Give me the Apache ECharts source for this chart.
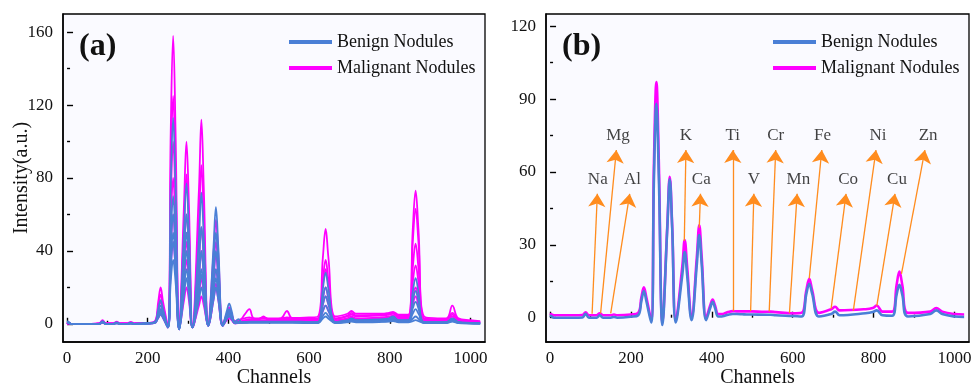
<!DOCTYPE html>
<html>
<head>
<meta charset="utf-8">
<script src="https://cdn.jsdelivr.net/npm/echarts@6/dist/echarts.min.js"></script>
<style>html,body{margin:0;padding:0;background:#fff}#item{width:974px;height:389px}</style>
</head>
<body>
<div id="item"></div>
<script>
var item = echarts.init(document.getElementById('item'));
var FONT = "'Liberation Serif','Times New Roman',serif";

/*-- channels (shared sample points) --*/
let CH = [0,4,10,60,80,88,96,115,123,131,150,158,166,
  200,218,226,232,238, 250,257,263,269,278, 290,296,302,311, 327,333,339,350,
  363,369,375,386, 396,402,408,416,
  425,432,440,452,462,475,487,498,530,545,558,600,622,
  634,641,648,665, 695,705,716, 780,798,808,822,846, 857,864,871,885, 940,955,970,1000,1024];

/*-- (a) malignant spectra --*/
let mal1 = [0,0.8,0,0,0.3,2,0.3,0.3,1.2,0.3,0.3,1,0.3, 0.5,1.5,12,20,12, -1,105,158,105,-2, 66,100,66,-1, 74,112,74,0, 38,57,38,0, 5.5,9,5.5,1.5,
  2,2.5,3,3.5,3,3,3.5,3,3,3.5,3.2,3.5,4, 36,52,36,4, 5.5,7,5.5, 5.5,6,6.5,5,5, 52,73,52,4, 3,10,3,2,1.5];
let mal2 = [0,0.5,0,0,0.2,1.5,0.2,0.2,1,0.2,0.2,0.8,0.2, 0.4,1.2,9.5,16,9.5, -1.5,82,125,82,-2.5, 54,82,54,-1.5, 57,87,57,-0.5, 30,45,30,-0.5, 4.5,7,4.5,1,
  1.5,2.5,5,8,3,2.5,4,2.5,2.5,2.8,2.5,2.8,3, 24,35,24,3, 4.5,6,4.5, 5,5.5,6,4.5,4.5, 45,63,45,3, 2.5,6,2.5,1.5,1];
let mal3 = [0,0.3,0,0,0.1,1,0.1,0.1,0.7,0.1,0.1,0.5,0.1, 0.3,1,7.5,12,7.5, -2,66,100,66,-2.5, 40,60,40,-2, 35,53,35,-1, 25,38,25,-1, 4,6,4,0.8,
  1,1.5,2,2.5,2.5,2.5,3,2.5,3,7,3,2.5,2.5, 21,30,21,2.5, 4,5,4, 4.5,5,5.5,4,4, 31,44,31,2.5, 2,5,2,1.2,1];
let mal4 = [0,0.2,0,0,0.1,0.8,0.1,0.1,0.5,0.1,0.1,0.4,0.1, 0.2,0.8,5,8,5, -2,53,80,53,-3, 30,45,30,-2, 26,40,26,-1, 20,30,20,-1, 3.3,5,3.3,0.5,
  0.8,1.2,1.5,2,2,2,2,2,2,2.2,2,2,2, 14,20,14,2, 3,4,3, 3.5,4,4.5,3.5,3.5, 23,32,23,2, 1.8,4,1.8,1,0.8];
let mal5 = [0,0.2,0,0,0.1,0.6,0.1,0.1,0.4,0.1,0.1,0.3,0.1, 0.2,0.6,4,6,4, -2,40,60,40,-3, 13,20,13,-2, 16,25,16,-1, 15,22,15,-1, 2.6,4,2.6,0.3,
  0.6,1,1.2,1.5,1.5,1.5,1.5,1.5,1.6,1.6,1.6,1.6,1.6, 10.5,15,10.5,1.6, 2.5,3.5,2.5, 3,3.5,4,3,3, 14,20,14,1.5, 1.5,3,1.5,0.8,0.6];
let mal6 = [0,0.2,0,0,0,0.5,0,0,0.3,0,0,0.2,0, 0.1,0.5,3.2,5,3.2, -2,30,45,30,-3, 23,35,23,-2, 10,15,10,-1, 13,20,13,-1, 2,3,2,0.2,
  0.4,0.7,0.9,1,1,1,1,1,1.1,1.1,1.1,1.1,1.1, 7,10,7,1.1, 2,3,2, 2.5,3,3.5,2.5,2.5, 10.5,15,10.5,1.2, 1.2,2.5,1.2,0.6,0.5];

/*-- (a) benign spectra --*/
let ben1 = [1.5,1,0,0,0,1.5,0,0,0.8,0,0,0.5,0, 0.3,1,8,13,8, -2,75,113,75,-3, 51,77,51,-2, 47,72,47,-1, 42,64,42,-1, 7,11,7,1,
  2.5,1,1,1.2,1.2,1.2,1.2,1.2,1.2,1.2,1.2,1,1, 19,28,19,1, 2,3,2, 2.5,3,4,2,2, 17.5,25,17.5,1, 1,3,1,0.5,0.3];
let ben2 = [1,0.8,0,0,0,1.2,0,0,0.6,0,0,0.4,0, 0.3,0.9,6.3,10,6.3, -2,46,70,46,-3, 40,60,40,-2, 35,53,35,-1, 33,50,33,-1, 5,8,5,0.8,
  1,0.9,0.9,1,1,1,1,1,1,1,1,0.8,0.8, 14,20,14,0.8, 1.8,2.5,1.8, 2,2.5,3.5,1.8,1.8, 12.5,18,12.5,0.8, 0.8,2.5,0.8,0.4,0.3];
let ben3 = [0.8,0.6,0,0,0,1,0,0,0.5,0,0,0.3,0, 0.2,0.8,5,8,5, -2,40,60,40,-3, 33,50,33,-2, 26,40,26,-1, 26,40,26,-1, 4.4,7,4.4,0.6,
  0.8,0.8,0.8,0.9,0.9,0.9,0.9,0.9,0.9,0.9,0.9,0.7,0.7, 10.5,15,10.5,0.7, 1.5,2.2,1.5, 1.8,2.2,3,1.5,1.5, 8.5,12,8.5,0.7, 0.7,2,0.7,0.3,0.2];
let ben4 = [0.6,0.5,0,0,0,0.8,0,0,0.4,0,0,0.2,0, 0.2,0.7,4.4,7,4.4, -2,33,50,33,-3, 26,40,26,-2, 20,30,20,-1, 20,30,20,-1, 3.8,6,3.8,0.5,
  0.7,0.7,0.7,0.8,0.8,0.8,0.8,0.8,0.8,0.8,0.8,0.6,0.6, 7,10,7,0.6, 1.2,1.8,1.2, 1.5,1.8,2.5,1.2,1.2, 5.6,8,5.6,0.6, 0.6,1.8,0.6,0.3,0.2];
let ben5 = [0.5,0.4,0,0,0,0.7,0,0,0.3,0,0,0.2,0, 0.1,0.6,3.8,6,3.8, -2,30,45,30,-3, 20,30,20,-2, 18,27,18,-1, 16,25,16,-1, 3.2,5,3.2,0.4,
  0.6,0.6,0.6,0.7,0.7,0.7,0.7,0.7,0.7,0.7,0.7,0.5,0.5, 4.2,6,4.2,0.5, 1,1.5,1, 1.2,1.5,2,1,1, 2.8,4,2.8,0.5, 0.5,1.5,0.5,0.2,0.1];
let ben6 = [0.4,0.3,0,0,0,0.6,0,0,0.3,0,0,0.1,0, 0.1,0.5,3.2,5,3.2, -2,23,35,23,-3, 16,25,16,-2, 13,20,13,-1, 13,20,13,-1, 2.6,4,2.6,0.3,
  0.5,0.5,0.5,0.6,0.6,0.6,0.6,0.6,0.6,0.6,0.6,0.4,0.4, 2.8,4,2.8,0.4, 0.8,1.2,0.8, 1,1.2,1.5,0.8,0.8, 1.5,2,1.5,0.4, 0.4,1.2,0.4,0.2,0.1];

/*-- (b) mean spectra --*/
let malMean = [1.8,1.3,1,1,1.1,2.2,1,1,1.8,1,1,1.3,1, 1.3,2,8.5,12.5,8.5, -1,64,97,64,-2, 38,58,38,-1, 21,32,21,0, 25,38,25,0, 5,7.5,5,1.5,
  1.5,1.8,2.3,2.7,2.6,2.6,2.6,2.6,2.4,2.5,2.3,1.8,2, 11.5,16,11.5,2, 3.5,4.5,3, 3.5,4,5,2.5,2.5, 13.5,19,13.5,2, 2.5,4,2.5,1.5,1.3];
let benMean = [1,0.5,0,0,0.1,1.6,0,0,1,0,0,0.3,0, 0.4,1,7,11,7, -2,58,88,58,-3, 37,57,37,-2, 17.5,27,17.5,-1, 22,34,22,-1, 4,6.5,4,0.5,
  0.5,0.8,1.2,1.5,1.5,1.4,1.3,1.3,1.2,1.2,1,0.7,0.5, 10,14,10,0.5, 1.5,2.5,1, 1.8,2.3,3,1,0.8, 9.5,13.5,9.5,0.5, 1.5,3,1.5,0.5,0.3];

/*-- element arrows in (b): base on spectrum, tip, label position --*/
let elements = ['Na','Mg','Al','K','Ca','Ti','V','Cr','Mn','Fe','Co','Ni','Cu','Zn'];
let arrowBase = [[104,1.6],[125,1.8],[150,1.8],[332,31.6],[369,37],[452,2.8],[496,2.8],[542,2.6],[592,1.9],[641,16.2],[695,3.6],[750,2.9],[808,4.9],[869,18]];
let arrowTip = [[117,51],[164,69],[197,51],[336,69],[372,51],[452,69],[504,51],[558,69],[611,51],[672,69],[732,51],[806,69],[853,51],[927,69]];
let labelPos = [[118,57],[168,75],[204,57],[336,75],[374,57],[452,75],[504,57],[558,75],[614,57],[674,75],[737,57],[811,75],[858,57],[935,75]];

/*-- tick values --*/
let xTicks = [0,200,400,600,800,1000];
let xMinor = [100,300,500,700,900];
let yTicksA = [0,40,80,120,160];
let yMinorA = [20,60,100,140];
let yTicksB = [0,30,60,90,120];
let yMinorB = [15,45,75,105];

let BLUE = '#4a7fd6', PINK = '#ff00ff', ORANGE = '#ff8c1e';

function pts(v){
  return CH.map(function(c,i){ return [c, v[i]]; });
}

// tick-only axis (no line, no labels)
function tickAxis(grid, min, max, vals, len, isX){
  return {
    type:'value', gridIndex:grid, min:min, max:max,
    position: isX ? 'bottom' : 'left',
    axisLine:{show:false},
    axisTick:{show:true, inside:true, length:len, customValues:vals, lineStyle:{color:'#000', width:1.4}},
    axisLabel:{show:false},
    splitLine:{show:false}
  };
}

function axis(grid, min, max, ticks, minor, isX, name){
  let main = {
    type:'value', gridIndex:grid, min:min, max:max,
    position: isX ? 'bottom' : 'left',
    axisLine:{show:true, onZero:false, lineStyle:{color:'#000', width:1.5}},
    axisTick:{show:false},
    axisLabel:{show:true, customValues:ticks, margin: isX ? 8 : 10, color:'#111', fontSize:17, fontFamily:FONT,
      formatter:function(v){ return String(v); }},
    splitLine:{show:false}
  };
  if (name) {
    main.name = name;
    main.nameLocation = 'middle';
    main.nameMoveOverlap = false;
    main.nameGap = isX ? 26 : 31;
    main.nameTextStyle = {color:'#111', fontSize:20, fontFamily:FONT};
  }
  return [main, tickAxis(grid, min, max, ticks, 6, isX), tickAxis(grid, min, max, minor, 3, isX)];
}

let series = [];
[mal1,mal2,mal3,mal4,mal5,mal6].forEach(function(v){
  series.push({name:'Malignant Nodules', type:'line', xAxisIndex:0, yAxisIndex:0, data:pts(v),
    smooth:0.4, showSymbol:false, itemStyle:{color:PINK}, lineStyle:{color:PINK, width:1.8}});
});
[ben1,ben2,ben3,ben4,ben5,ben6].forEach(function(v){
  series.push({name:'Benign Nodules', type:'line', xAxisIndex:0, yAxisIndex:0, data:pts(v),
    smooth:0.4, showSymbol:false, itemStyle:{color:BLUE}, lineStyle:{color:BLUE, width:1.8}});
});
series.push({name:'Malignant Nodules', type:'line', xAxisIndex:3, yAxisIndex:3, data:pts(malMean),
  smooth:0.4, showSymbol:false, itemStyle:{color:PINK}, lineStyle:{color:PINK, width:2.6}});
series.push({name:'Benign Nodules', type:'line', xAxisIndex:3, yAxisIndex:3, data:pts(benMean),
  smooth:0.4, showSymbol:false, itemStyle:{color:BLUE}, lineStyle:{color:BLUE, width:2.6}});
// arrows
series.push({
  type:'lines', coordinateSystem:'cartesian2d', xAxisIndex:3, yAxisIndex:3, z:5,
  symbol:['none','arrow'], symbolSize:13,
  lineStyle:{color:ORANGE, width:1.3, opacity:1, curveness:0},
  data: elements.map(function(e,i){ return {name:e, coords:[arrowBase[i], arrowTip[i]]}; })
});
// element labels
series.push({
  type:'scatter', xAxisIndex:3, yAxisIndex:3, symbolSize:0, z:6,
  label:{show:true, position:'inside', formatter:'{b}', color:'#111', fontSize:17, fontFamily:FONT},
  data: elements.map(function(e,i){ return {name:e, value:labelPos[i]}; })
});

let axA_x = axis(0, -10, 1036, xTicks, xMinor, true, 'Channels');
let axB_x = axis(1, -10, 1036, xTicks, xMinor, true, 'Channels');
let axA_y = axis(0, -10, 170, yTicksA, yMinorA, false, 'Intensity(a.u.)');
let axB_y = axis(1, -10, 125, yTicksB, yMinorB, false, null);

let legendBase = {
  orient:'vertical', top:33, padding:0, itemWidth:43, itemHeight:4, itemGap:8, icon:'rect',
  data:['Benign Nodules','Malignant Nodules'],
  textStyle:{color:'#111', fontSize:18, fontFamily:FONT}
};

let option = {
  animation:false,
  backgroundColor:'#fff',
  grid:[
    {left:63, top:14, width:422, height:328, outerBoundsMode:'none', containLabel:false,
      show:true, backgroundColor:'#fafaff', borderColor:'#000', borderWidth:1.3},
    {left:546, top:14, width:423, height:328, outerBoundsMode:'none', containLabel:false,
      show:true, backgroundColor:'#fafaff', borderColor:'#000', borderWidth:1.3}
  ],
  xAxis: axA_x.concat(axB_x),
  yAxis: axA_y.concat(axB_y),
  legend:[
    Object.assign({left:289}, legendBase),
    Object.assign({left:773}, legendBase)
  ],
  graphic:[
    {type:'text', left:79, top:31, style:{text:'(a)', font:'bold 32px ' + FONT, fill:'#111'}},
    {type:'text', left:562, top:31, style:{text:'(b)', font:'bold 32px ' + FONT, fill:'#111'}}
  ],
  series: series
};
item.setOption(option);
</script>
</body>
</html>
